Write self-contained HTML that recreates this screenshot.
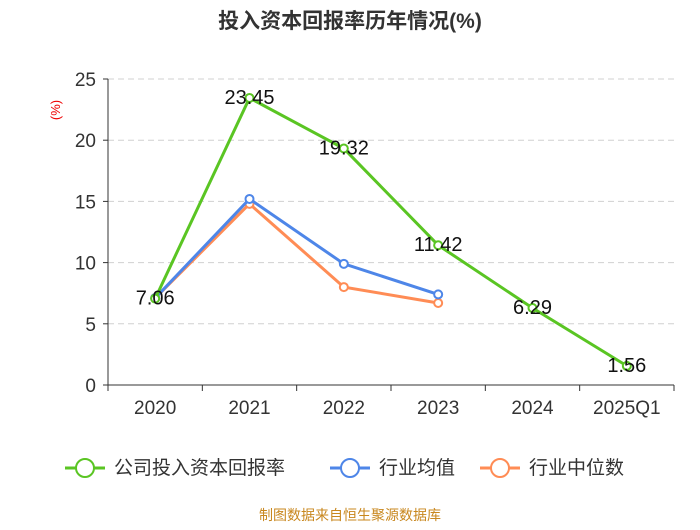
<!DOCTYPE html>
<html><head><meta charset="utf-8"><style>
body{margin:0;background:#fff;font-family:"Liberation Sans","Noto Sans CJK SC",sans-serif;}
</style></head><body>
<svg width="700" height="525" xmlns="http://www.w3.org/2000/svg" font-family="Liberation Sans, Noto Sans CJK SC, sans-serif">
<text x="350" y="28" text-anchor="middle" font-size="21" font-weight="bold" fill="#333">投入资本回报率历年情况(%)</text>
<text x="60" y="110" transform="rotate(-90 60 110)" text-anchor="middle" font-size="13" fill="#e00">(%)</text>
<g id="grid"></g><g id="axes"></g><g id="series"></g>
<g font-size="19" fill="#333">
<g><line x1="65" y1="468" x2="105" y2="468" stroke="#5ac523" stroke-width="3"/><circle cx="85" cy="468" r="9" fill="#fff" stroke="#5ac523" stroke-width="2"/><text x="114" y="474">公司投入资本回报率</text></g>
<g><line x1="330" y1="468" x2="370" y2="468" stroke="#4e86e8" stroke-width="3"/><circle cx="350" cy="468" r="9" fill="#fff" stroke="#4e86e8" stroke-width="2"/><text x="379" y="474">行业均值</text></g>
<g><line x1="480" y1="468" x2="520" y2="468" stroke="#ff8c55" stroke-width="3"/><circle cx="500" cy="468" r="9" fill="#fff" stroke="#ff8c55" stroke-width="2"/><text x="529" y="474">行业中位数</text></g>
</g>
<text x="350" y="520" text-anchor="middle" font-size="14" fill="#c8871e">制图数据来自恒生聚源数据库</text>
</svg>
<script>
const categories=["2020","2021","2022","2023","2024","2025Q1"];
const roic=[7.06,23.45,19.32,11.42,6.29,1.56];
const industryAvg=[7.1,15.2,9.9,7.4,null,null];
const industryMedian=[7.1,14.8,8.0,6.7,null,null];
const yTicks=[0,5,10,15,20,25];
const NS="http://www.w3.org/2000/svg";
const L=108,R=674,Y0=385,Y25=79;
const band=(R-L)/categories.length;
const xs=i=>L+band*(i+0.5);
const ys=v=>Y0-(Y0-Y25)*v/25;
function mk(t,a,p){const e=document.createElementNS(NS,t);for(const k in a)e.setAttribute(k,a[k]);p.appendChild(e);return e;}
const grid=document.getElementById('grid'),axes=document.getElementById('axes'),ser=document.getElementById('series');
yTicks.forEach(v=>{
 if(v>0){const g=mk('line',{x1:L,x2:R,y1:ys(v),y2:ys(v),stroke:'#d0d0d0','stroke-dasharray':'6,4'},grid);
 
 }
 mk('line',{x1:L-5,x2:L,y1:ys(v),y2:ys(v),stroke:'#333'},axes);
 const t=mk('text',{x:L-12,y:ys(v)+7,'text-anchor':'end','font-size':'19',fill:'#333'},axes);t.textContent=v;
 
 
});
mk('line',{x1:L,x2:L,y1:Y25,y2:Y0,stroke:'#333'},axes);
mk('line',{x1:L,x2:R,y1:Y0,y2:Y0,stroke:'#333'},axes);
categories.forEach((c,i)=>{
 mk('line',{x1:L+band*i,x2:L+band*i,y1:Y0,y2:Y0+6,stroke:'#333'},axes);
 const t=mk('text',{x:xs(i),y:Y0+29,'text-anchor':'middle','font-size':'19',fill:'#333'},axes);t.textContent=c;
 
 
});
mk('line',{x1:R,x2:R,y1:Y0,y2:Y0+6,stroke:'#333'},axes);
function series(vals,color,name,labels){
 const g=mk('g',{},ser);
 
 
 const pts=vals.map((v,i)=>v==null?null:[xs(i),ys(v)]).filter(p=>p);
 mk('polyline',{points:pts.map(p=>p.join(',')).join(' '),fill:'none',stroke:color,'stroke-width':3},g);
 vals.forEach((v,i)=>{if(v==null)return;
  const c=mk('circle',{cx:xs(i),cy:ys(v),r:4,fill:'#fff',stroke:color,'stroke-width':2},g);
  
  
  if(labels){const t=mk('text',{x:xs(i),y:ys(v)+6,'text-anchor':'middle','font-size':'20',fill:'#111'},g);t.textContent=v.toFixed(2);
  
  }
 });
}
series(industryMedian,'#ff8c55','industry-median-line',false);
series(industryAvg,'#4e86e8','industry-avg-line',false);
series(roic,'#5ac523','roic-line',true);
</script>
</body></html>
